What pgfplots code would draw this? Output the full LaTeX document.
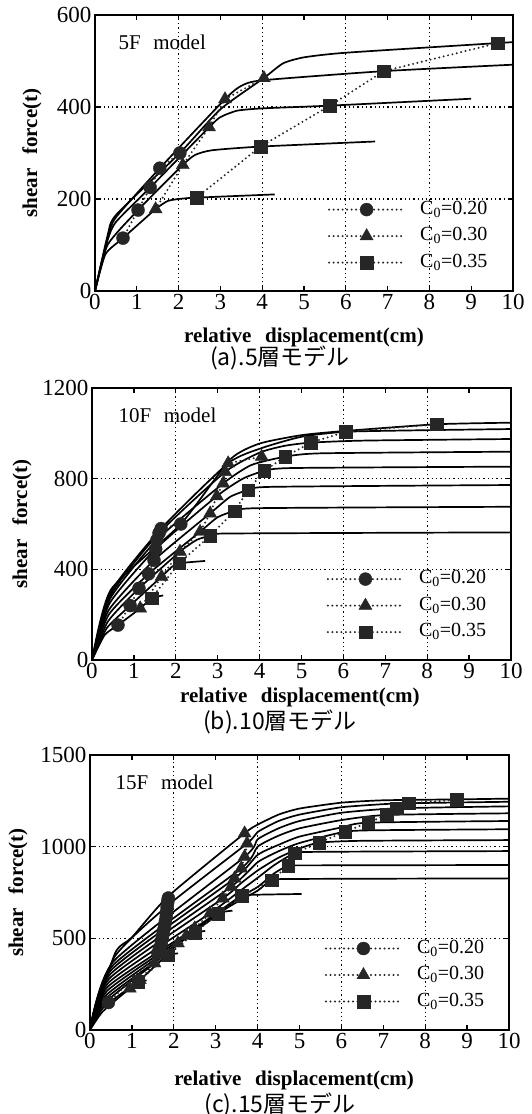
\documentclass[border=0pt]{standalone}
\usepackage{pgfplots}
\pgfplotsset{compat=1.18}
\usepackage{fontspec}
\setmainfont{Liberation Serif}
\newfontfamily\cjk{Noto Sans CJK JP}

\pgfplotsset{
  panel/.style={
    scale only axis, anchor=south west,
    xmin=0, xmax=10, xtick={0,...,10},
    extra x ticks={2,4,6,8}, extra x tick labels={},
    extra x tick style={grid=major, major tick length=0pt},
    ymajorgrids,
    tick align=inside, major tick length=5pt,
    tick style={black, line width=1.3pt},
    axis line style={black, line width=1.6pt},
    grid style={black, line width=1.3pt, dash pattern=on 1.3pt off 3pt},
    every tick label/.append style={font=\fontsize{23}{26}\selectfont},
    /pgf/number format/assume math mode=true,
    /pgf/number format/set thousands separator={},
    xlabel={\bfseries relative\hspace{0.65em}displacement(cm)},
    ylabel={\bfseries shear\hspace{0.65em}force(t)},
    label style={font=\fontsize{21}{24}\selectfont},
    legend style={draw=none, fill=none, inner sep=0pt, row sep=7.5pt,
      anchor=west, font=\fontsize{20}{24}\selectfont,
      nodes={inner sep=0pt, text height=14pt, text depth=5pt},
      /tikz/every odd column/.append style={column sep=15pt}},
    legend cell align=left,
    legend image code/.code={\draw[mark repeat=2, mark phase=2, #1]
      plot coordinates {(0pt,0pt) (37.5pt,0pt) (75pt,0pt)};},
  },
  story/.style={black, line width=1.7pt, smooth, tension=0.35, forget plot, no markers},
  cdot/.style={black!85, line width=2.2pt, line cap=round, dash pattern=on 0pt off 4.5pt,
    mark options={solid, fill=black!85, draw=black!85, line width=0.4pt}},
}

\begin{document}
\begin{tikzpicture}
\path[use as bounding box] (0,0) rectangle (531pt,-1114pt);

% (a) 5F
\begin{axis}[panel, at={(95pt,-291pt)}, width=418pt, height=276pt,
  ymin=0, ymax=600, ytick={0,200,400,600},
  xlabel style={at={(axis description cs:0.5,-0.167)}, anchor=center},
  ylabel style={at={(axis description cs:-0.151,0.5)}, anchor=center},
  legend style={at={(0.557,0.199)}}]
\addplot[story] coordinates {(0,0) (0.25,80) (0.67,115) (1.45,178) (1.75,196) (2.1,201) (2.43,203) (4.3,210)};
\addplot[story] coordinates {(0,0) (0.3,100) (1.03,176) (2.1,274) (2.4,296) (2.8,306) (3.96,314) (6.7,325)};
\addplot[story] coordinates {(0,0) (0.3,110) (0.5,150) (1.32,225) (2.73,356) (3.0,378) (3.4,392) (4.0,397) (5.62,403) (9.0,418)};
\addplot[story] coordinates {(0,0) (0.3,115) (0.5,160) (1.55,267) (3.11,417) (3.5,446) (4.0,458) (6.91,478) (10,492)};
\addplot[story] coordinates {(0,0) (0.3,120) (0.5,165) (2.03,300) (3.0,395) (4.04,463) (4.5,495) (5.0,508) (6,518) (9.64,539) (10,541)};
\addplot[cdot, mark=*, mark size=6.5pt] coordinates {(0.67,115) (1.03,176) (1.32,225) (1.55,267) (2.03,300)};
\addlegendentry{C\textsubscript{0}=0.20}
\addplot[cdot, mark=triangle*, mark size=7.5pt] coordinates {(1.45,178) (2.1,274) (2.73,356) (3.11,417) (4.04,463)};
\addlegendentry{C\textsubscript{0}=0.30}
\addplot[cdot, mark=square*, mark size=6.3pt] coordinates {(2.43,203) (3.96,314) (5.62,403) (6.91,478) (9.64,539)};
\addlegendentry{C\textsubscript{0}=0.35}
\node[anchor=west, font=\fontsize{21}{24}\selectfont] at (axis description cs:0.048,0.9) {5F\hspace{0.6em}model};
\end{axis}

% (b) 10F
\begin{axis}[panel, at={(92pt,-660pt)}, width=419pt, height=272pt,
  ymin=0, ymax=1200, ytick={0,400,800,1200},
  xlabel style={at={(axis description cs:0.496,-0.136)}, anchor=center},
  ylabel style={at={(axis description cs:-0.167,0.5)}, anchor=center},
  legend style={at={(0.56,0.2)}}]
\addplot[story] coordinates {(0,0) (0.3,110) (0.62,154) (1.15,228) (1.42,272) (1.7,285)};
\addplot[story] coordinates {(0,0) (0.35,140) (0.91,240) (1.66,368) (1.9,410) (2.08,427) (2.7,437)};
\addplot[story] coordinates {(0,0) (0.38,170) (1.12,316) (2.10,478) (2.5,530) (2.82,548) (3.2,558) (10,563)};
\addplot[story] coordinates {(0,0) (0.4,200) (1.35,380) (2.58,566) (3.0,630) (3.40,657) (4,670) (10,676)};
\addplot[story] coordinates {(0,0) (0.4,220) (1.48,440) (2.82,647) (3.3,720) (3.73,750) (4.3,764) (10,772)};
\addplot[story] coordinates {(0,0) (0.42,250) (1.52,490) (2.98,723) (3.6,800) (4.11,834) (4.8,847) (10,853)};
\addplot[story] coordinates {(0,0) (0.43,270) (1.55,530) (3.13,779) (3.8,860) (4.61,897) (5.5,912) (10,919)};
\addplot[story] coordinates {(0,0) (0.44,285) (1.6,560) (3.18,830) (4.0,915) (4.6,945) (5.22,959) (6.5,968) (10,975)};
\addplot[story] coordinates {(0,0) (0.45,300) (1.65,580) (3.25,868) (4.05,935) (5,985) (6.06,1007) (8,1014) (10,1019)};
\addplot[story] coordinates {(0,0) (0.45,310) (2.12,600) (3.3,885) (4.0,955) (5,992) (6,1010) (8.23,1040) (10,1047)};
\addplot[cdot, mark=*, mark size=6.5pt] coordinates {(0.62,154) (0.91,240) (1.12,316) (1.35,380) (1.48,440) (1.52,490) (1.55,530) (1.6,560) (1.65,580) (2.12,600)};
\addlegendentry{C\textsubscript{0}=0.20}
\addplot[cdot, mark=triangle*, mark size=7.5pt] coordinates {(1.15,228) (1.66,368) (2.10,478) (2.58,566) (2.82,647) (2.98,723) (3.13,779) (3.18,830) (3.25,868) (4.05,897)};
\addlegendentry{C\textsubscript{0}=0.30}
\addplot[cdot, mark=square*, mark size=6.3pt] coordinates {(1.42,272) (2.08,427) (2.82,548) (3.40,657) (3.73,750) (4.11,834) (4.61,897) (5.22,959) (6.06,1007) (8.23,1040)};
\addlegendentry{C\textsubscript{0}=0.35}
\node[anchor=west, font=\fontsize{21}{24}\selectfont] at (axis description cs:0.055,0.9) {10F\hspace{0.6em}model};
\end{axis}

% (c) 15F
\begin{axis}[panel, at={(90pt,-1030pt)}, width=419pt, height=275pt,
  ymin=0, ymax=1500, ytick={0,500,1000,1500},
  xlabel style={at={(axis description cs:0.487,-0.182)}, anchor=center},
  ylabel style={at={(axis description cs:-0.172,0.5)}, anchor=center},
  legend style={at={(0.56,0.2)}}]
\addplot[story] coordinates {(0,0) (0.6,420) (1.0,505) (1.87,730) (3.69,1073) (4.0,1120) (4.5,1175) (5,1208) (6,1240) (7,1253) (8.75,1258) (10,1262)};
\addplot[story] coordinates {(0,0) (0.58,397) (1.86,680) (3.75,1018) (4.0,1080) (4.5,1140) (5,1175) (6,1215) (7,1232) (7.6,1237) (10,1245)};
\addplot[story] coordinates {(0,0) (0.56,374) (3.69,945) (4.0,1040) (4.5,1100) (5,1140) (6,1185) (7.32,1209) (10,1220)};
\addplot[story] coordinates {(0,0) (0.54,351) (3.61,882) (4.0,1000) (4.5,1060) (5,1100) (6,1145) (7.08,1173) (10,1182)};
\addplot[story] coordinates {(0,0) (0.51,328) (3.45,827) (4.0,955) (4.5,1010) (5,1055) (6,1105) (6.64,1131) (10,1140)};
\addplot[story] coordinates {(0,0) (0.49,306) (3.37,782) (4.0,915) (4.5,975) (5,1020) (6.09,1082) (7,1090) (10,1095)};
\addplot[story] coordinates {(0,0) (0.47,283) (3.17,718) (3.6,800) (4.0,870) (4.5,940) (5.0,990) (5.47,1022) (6.5,1032) (10,1036)};
\addplot[story] coordinates {(0,0) (0.45,260) (2.86,636) (3.5,745) (4.0,830) (4.4,900) (4.89,964) (5.5,972) (10,976)};
\addplot[story] coordinates {(0,0) (0.43,237) (2.5,555) (3.5,715) (4.0,780) (4.4,855) (4.73,895) (5.3,898) (10,900)};
\addplot[story] coordinates {(0,0) (0.41,214) (2.3,515) (3.3,670) (4.0,760) (4.34,818) (5,824) (10,827)};
\addplot[story] coordinates {(0,0) (0.39,191) (2.1,473) (3.0,620) (3.62,731) (4.0,738) (5.05,742)};
\addplot[story] coordinates {(0,0) (0.36,168) (1.78,409) (2.5,540) (3.06,636) (3.4,651)};
\addplot[story] coordinates {(0,0) (0.34,146) (1.54,364) (2.1,470) (2.51,531) (2.75,540)};
\addplot[story] coordinates {(0,0) (0.32,123) (1.19,273) (1.6,360) (1.87,409) (2.1,418)};
\addplot[story] coordinates {(0,0) (0.30,100) (0.95,227) (1.15,264) (1.35,270)};
\addplot[cdot, mark=*, mark size=6.5pt] coordinates {(0.44,150) (1.62,420) (1.66,445) (1.70,470) (1.72,495) (1.74,520) (1.76,545) (1.78,570) (1.80,595) (1.82,620) (1.83,645) (1.84,670) (1.85,690) (1.86,705) (1.87,720)};
\addlegendentry{C\textsubscript{0}=0.20}
\addplot[cdot, mark=triangle*, mark size=7.5pt] coordinates {(0.95,227) (1.19,273) (1.54,364) (1.78,409) (2.1,473) (2.3,515) (2.5,555) (2.86,636) (3.17,718) (3.37,782) (3.45,827) (3.61,882) (3.69,945) (3.75,1018) (3.69,1073)};
\addlegendentry{C\textsubscript{0}=0.30}
\addplot[cdot, mark=square*, mark size=6.3pt] coordinates {(1.15,264) (1.87,409) (2.51,531) (3.06,636) (3.62,731) (4.34,818) (4.73,895) (4.89,964) (5.47,1022) (6.09,1082) (6.64,1131) (7.08,1173) (7.32,1209) (7.6,1237) (8.75,1255)};
\addlegendentry{C\textsubscript{0}=0.35}
\node[anchor=west, font=\fontsize{21}{24}\selectfont] at (axis description cs:0.053,0.9) {15F\hspace{0.6em}model};
\end{axis}

\node[font=\cjk\fontsize{23}{26}\selectfont] at (280pt,-358pt) {(a).5層モデル};
\node[font=\cjk\fontsize{23}{26}\selectfont] at (280pt,-722pt) {(b).10層モデル};
\node[font=\cjk\fontsize{23}{26}\selectfont] at (280pt,-1105pt) {(c).15層モデル};
\end{tikzpicture}
\end{document}
